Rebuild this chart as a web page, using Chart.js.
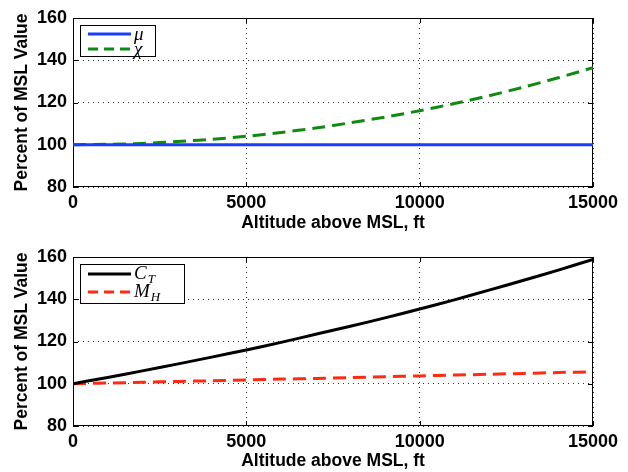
<!DOCTYPE html>
<html>
<head>
<meta charset="utf-8">
<script src="https://cdn.jsdelivr.net/npm/chart.js@4.4.1/dist/chart.umd.min.js"></script>
<style>
  body { margin: 0; background: #fff; width: 628px; height: 472px; position: relative; overflow: hidden; }
  .panel { position: absolute; left: 0; width: 628px; }
  .legend { position: absolute; box-sizing: border-box; background: #fff; border: 1px solid #000; padding: 0 0 0 7px;
            font-family: "Liberation Serif", "DejaVu Serif", serif; font-style: italic; font-size: 19px; }
  .legend .row { display: flex; align-items: center; white-space: nowrap; }
  .legend svg { margin-right: 3px; flex: none; }
  .legend sub { font-size: 13px; vertical-align: -4px; margin-left: 1px; }
</style>
</head>
<body>
<div class="panel" style="top:0;height:236px"><canvas id="top-chart" width="628" height="236"></canvas></div>
<div class="panel" style="top:240px;height:232px"><canvas id="bottom-chart" width="628" height="232"></canvas></div>
<div class="legend" id="top-legend" style="left:80px;top:25px;width:76px;height:32px"></div>
<div class="legend" id="bottom-legend" style="left:80px;top:264px;width:105px;height:40px"></div>

<script>
// data (perkiraan)
const altitudeFt = [0, 1000, 2000, 3000, 4000, 5000, 6000, 7000, 8000, 9000, 10000, 11000, 12000, 13000, 14000, 15000];
const muPct  = [100, 100, 100, 100, 100, 100, 100, 100, 100, 100, 100, 100, 100, 100, 100, 100];
const chiPct = [100, 100.2, 100.6, 101.5, 102.6, 104.0, 105.8, 107.9, 110.4, 113.1, 116.1, 119.5, 123.2, 127.3, 131.7, 136.5];
const ctPct  = [100, 103.0, 106.1, 109.3, 112.6, 116.0, 119.6, 123.4, 127.2, 131.2, 135.4, 139.7, 144.3, 149.0, 153.8, 158.9];
const mhPct  = [100, 100.35, 100.7, 101.1, 101.4, 101.8, 102.2, 102.5, 102.9, 103.3, 103.7, 104.1, 104.5, 104.9, 105.3, 105.7];

const xTicks = [0, 5000, 10000, 15000];
const yTicks = [80, 100, 120, 140, 160];

const xTitle = "Altitude above MSL, ft";
const yTitle = "Percent of MSL Value";

const topLabels = ["μ", "χ"];
const bottomLabels = ["C_T", "M_H"];

const tickFont = { family: "Liberation Sans, Arial, sans-serif", size: 18, weight: "bold" };
const titleFont = { family: "Liberation Sans, Arial, sans-serif", size: 17.5, weight: "bold" };

function toPoints(values) {
  return values.map((v, i) => ({ x: altitudeFt[i], y: v }));
}

// kotak + tick ke dalam ala matlab
const framePlugin = {
  id: "frame",
  beforeDatasetsDraw(chart) {
    const { ctx, chartArea: a, scales } = chart;
    ctx.save();
    ctx.strokeStyle = "#000";
    ctx.lineWidth = 1;
    ctx.setLineDash([]);
    ctx.strokeRect(a.left + 0.5, a.top + 0.5, a.right - a.left - 1, a.bottom - a.top - 1);
    const len = 5;
    ctx.beginPath();
    xTicks.forEach(t => {
      const px = Math.round(scales.x.getPixelForValue(t)) + 0.5;
      ctx.moveTo(px, a.bottom); ctx.lineTo(px, a.bottom - len);
      ctx.moveTo(px, a.top); ctx.lineTo(px, a.top + len);
    });
    yTicks.forEach(t => {
      const py = Math.round(scales.y.getPixelForValue(t)) + 0.5;
      ctx.moveTo(a.left, py); ctx.lineTo(a.left + len, py);
      ctx.moveTo(a.right, py); ctx.lineTo(a.right - len, py);
    });
    ctx.stroke();
    ctx.restore();
  }
};

function makeChart(canvas, datasets, padTop, xAxisHeight, xTitlePad) {
  return new Chart(canvas, {
    type: "line",
    data: { datasets: datasets },
    options: {
      responsive: false,
      animation: false,
      layout: { padding: { top: padTop, right: 35, left: 0, bottom: 0 } },
      plugins: { legend: { display: false }, tooltip: { enabled: false } },
      elements: { point: { radius: 0 }, line: { tension: 0.3 } },
      scales: {
        x: {
          type: "linear",
          min: 0,
          max: 15000,
          afterBuildTicks: s => { s.ticks = xTicks.map(v => ({ value: v })); },
          afterFit: s => { s.height = xAxisHeight; },
          ticks: { font: tickFont, color: "#000", padding: 5, maxRotation: 0, callback: v => String(v) },
          grid: { color: "#333", lineWidth: 1, drawTicks: false },
          border: { display: false, dash: [1, 4] },
          title: { display: true, text: xTitle, font: titleFont, color: "#000", padding: { top: 0, bottom: xTitlePad } }
        },
        y: {
          min: 80,
          max: 160,
          afterBuildTicks: s => { s.ticks = yTicks.map(v => ({ value: v })); },
          afterFit: s => { s.width = 73; },
          ticks: { font: tickFont, color: "#000", padding: 6, callback: v => String(v) },
          grid: { color: "#333", lineWidth: 1, drawTicks: false },
          border: { display: false, dash: [1, 4] },
          title: { display: true, text: yTitle, font: titleFont, color: "#000", padding: { top: 12, bottom: 0 } }
        }
      }
    },
    plugins: [framePlugin]
  });
}

const topColors = ["#1a3cff", "#118a11"];
const bottomColors = ["#000000", "#ff2a10"];
const dashes = [[], [13, 7]];

const topChart = makeChart(document.querySelector("#top-chart"), [
  { label: topLabels[0], data: toPoints(muPct), borderColor: topColors[0], borderWidth: 3, borderDash: dashes[0] },
  { label: topLabels[1], data: toPoints(chiPct), borderColor: topColors[1], borderWidth: 3, borderDash: dashes[1] }
], 18, 49, 2);

const bottomChart = makeChart(document.querySelector("#bottom-chart"), [
  { label: bottomLabels[0], data: toPoints(ctPct), borderColor: bottomColors[0], borderWidth: 3, borderDash: dashes[0] },
  { label: bottomLabels[1], data: toPoints(mhPct), borderColor: bottomColors[1], borderWidth: 3, borderDash: dashes[1] }
], 17, 46, 0);

// legend html, teks asli
function buildLegend(el, chart, rowHeight) {
  chart.data.datasets.forEach(ds => {
    const row = document.createElement("div");
    row.className = "row";
    row.style.height = rowHeight + "px";
    const dash = ds.borderDash.length ? "10,6" : "none";
    row.innerHTML = `<svg width="43" height="6"><line x1="0" y1="3" x2="43" y2="3" stroke="${ds.borderColor}" stroke-width="3" stroke-dasharray="${dash}"/></svg>`;
    const parts = ds.label.split("_");
    const span = document.createElement("span");
    span.textContent = parts[0];
    if (parts[1]) {
      const sub = document.createElement("sub");
      sub.textContent = parts[1];
      span.appendChild(sub);
    }
    row.appendChild(span);
    el.appendChild(row);
  });
}

buildLegend(document.querySelector("#top-legend"), topChart, 15);
buildLegend(document.querySelector("#bottom-legend"), bottomChart, 18);
</script>
</body>
</html>
